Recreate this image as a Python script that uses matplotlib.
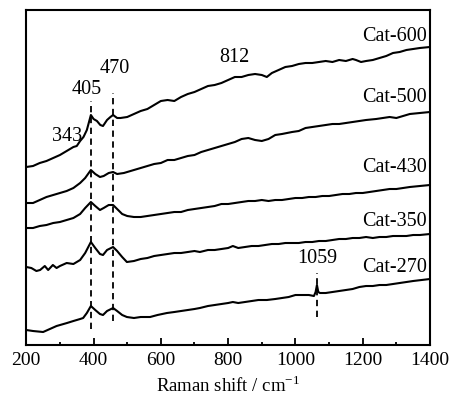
import numpy as np
import matplotlib
matplotlib.use('Agg')
import matplotlib.pyplot as plt
from matplotlib.ticker import MultipleLocator

plt.rcParams['font.family'] = ['Liberation Serif', 'DejaVu Serif']
plt.rcParams['mathtext.fontset'] = 'stix'

# Raman spectra, intensity in arbitrary units (curves already offset)
x_600 = [200, 220, 240, 260, 280, 300, 320, 340, 350, 360, 370, 380, 392, 400, 410, 420, 428, 440, 450, 458,
         470, 480, 500, 520, 540, 560, 580, 600, 620, 640, 660, 680, 700, 720, 740, 760, 780, 800, 820, 840,
         860, 880, 900, 915, 930, 950, 970, 990, 1010, 1030, 1050, 1070, 1090, 1110, 1130, 1150, 1170, 1180,
         1195, 1210, 1230, 1250, 1270, 1290, 1310, 1330, 1350, 1370, 1400]
y_600 = [178, 179, 182, 184, 187, 190, 194, 198, 199, 204, 208, 215, 230, 226, 224, 220, 219, 225, 228, 230,
         227, 227, 228, 231, 234, 236, 240, 244, 245, 244, 248, 251, 253, 256, 259, 260, 262, 265, 268, 268,
         270, 271, 270, 268, 272, 275, 278, 279, 281, 282, 282, 283, 284, 283, 285, 284, 286, 285,
         283, 284, 285, 287, 289, 292, 293, 295, 296, 297, 298]

x_500 = [200, 220, 240, 260, 280, 300, 320, 340, 360, 375, 392, 405, 419, 430, 445, 458, 470, 490, 510, 530,
         560, 580, 600, 620, 640, 660, 680, 700, 720, 740, 760, 780, 800, 820, 840, 860, 880, 900, 920, 940,
         960, 990, 1010, 1030, 1050, 1070, 1090, 1110, 1130, 1150, 1170, 1190, 1210, 1240, 1260, 1280, 1300,
         1320, 1340, 1370, 1400]
y_500 = [142, 142, 145, 148, 150, 152, 154, 157, 162, 167, 175, 171, 168, 169, 172, 173, 171, 172, 174, 176,
         179, 181, 182, 185, 185, 187, 189, 190, 193, 195, 197, 199, 201, 203, 206, 207, 205, 204, 206, 210,
         211, 213, 214, 217, 218, 219, 220, 221, 221, 222, 223, 224, 225, 226, 227, 228, 227,
         229, 231, 232, 233]

x_430 = [200, 220, 240, 260, 280, 300, 320, 340, 360, 375, 392, 405, 419, 430, 445, 458, 470, 485, 500, 520,
         540, 560, 580, 600, 620, 640, 660, 680, 700, 720, 740, 760, 780, 800, 820, 840, 860, 880, 900, 920,
         940, 960, 980, 1000, 1020, 1040, 1060, 1080, 1100, 1120, 1140, 1160, 1180, 1200, 1220, 1240, 1260,
         1280, 1300, 1320, 1340, 1370, 1400]
y_430 = [117, 117, 119, 120, 122, 123, 125, 127, 131, 137, 143, 139, 135, 137, 140, 140, 136, 131, 129, 128,
         128, 129, 130, 131, 132, 133, 133, 135, 136, 137, 138, 139, 141, 141, 142, 143, 144, 144, 145, 144,
         145, 145, 146, 147, 147, 148, 148, 149, 149, 150, 151, 151, 152, 152, 153, 154, 155,
         156, 156, 157, 158, 159, 160]

x_350 = [200, 215, 230, 241, 255, 265, 279, 290, 300, 320, 340, 360, 375, 392, 405, 419, 428, 440, 458, 470,
         485, 499, 520, 540, 560, 580, 600, 620, 640, 660, 680, 700, 716, 740, 760, 780, 800, 814, 830, 850,
         870, 890, 910, 930, 950, 970, 990, 1010, 1030, 1050, 1070, 1090, 1110, 1130, 1150, 1170, 1190,
         1210, 1230, 1250, 1270, 1290, 1310, 1330, 1350, 1370, 1400]
y_350 = [78, 77, 74, 75, 79, 75, 80, 77, 79, 82, 81, 85, 92, 103, 97, 91, 90, 95, 98, 94,
         88, 83, 84, 86, 87, 89, 90, 91, 92, 92, 93, 94, 93, 95, 95, 96, 97, 99, 97, 98,
         99, 99, 100, 101, 101, 102, 102, 102, 103, 103, 104, 104, 105, 106, 106, 107, 107,
         108, 107, 108, 108, 109, 109, 109, 110, 110, 111]

x_270 = [200, 220, 250, 270, 290, 321, 340, 360, 369, 380, 392, 405, 419, 428, 440, 458, 470, 485, 499, 520,
         540, 568, 590, 618, 640, 660, 680, 700, 716, 740, 760, 780, 800, 814, 830, 850, 870, 890, 915, 940,
         960, 980, 1000, 1020, 1040, 1055, 1060, 1064, 1068, 1073, 1090, 1110, 1130, 1150, 1170, 1190, 1210,
         1230, 1250, 1270, 1290, 1310, 1330, 1350, 1375, 1400]
y_270 = [15, 14, 13, 16, 19, 22, 24, 26, 27, 32, 39, 35, 31, 30, 34, 37, 34, 30, 28, 27,
         28, 28, 30, 32, 33, 34, 35, 36, 37, 39, 40, 41, 42, 43, 42, 43, 44, 45, 45, 46,
         47, 48, 50, 50, 50, 49, 53, 60, 53, 52, 52, 53, 54, 55, 56, 58, 59,
         59, 60, 60, 61, 62, 63, 64, 65, 66]

curve_names = ['Cat-600', 'Cat-500', 'Cat-430', 'Cat-350', 'Cat-270']
curve_label_y = [308, 247, 178, 124, 78]

# marker lines: position, bottom, top
mark_x = [392, 457, 1064]
mark_lo = [16, 24, 28]
mark_hi = [244, 252, 72]

# peak annotations: text, x, y
peak_text = ['343', '405', '470', '812', '1059']
peak_x = [321, 380, 464, 820, 1064]
peak_y = [208, 255, 276, 287, 87]

fig = plt.figure(figsize=(4.51, 4.03), dpi=100)
ax = fig.add_axes([0.0583, 0.1439, 0.8951, 0.8313])

for xs, ys in [(x_600, y_600), (x_500, y_500), (x_430, y_430), (x_350, y_350), (x_270, y_270)]:
    ax.plot(xs, ys, color='black', lw=1.5)

for xm, lo, hi in zip(mark_x, mark_lo, mark_hi):
    ax.plot([xm, xm], [lo, hi], color='black', lw=1.3, ls=(0, (3.5, 2.5)))

for t, xt, yt in zip(peak_text, peak_x, peak_y):
    ax.text(xt, yt, t, ha='center', va='center', fontsize=14.5)

for name, yl in zip(curve_names, curve_label_y):
    ax.text(1390, yl, name, ha='right', va='center', fontsize=14.5)

ax.set_xlim(200, 1400)
ax.set_ylim(0, 335)
ax.set_yticks([])
ax.xaxis.set_major_locator(MultipleLocator(200))
ax.xaxis.set_minor_locator(MultipleLocator(100))
ax.tick_params(axis='x', which='major', direction='in', length=5, width=1.3, labelsize=14, pad=5)
ax.tick_params(axis='x', which='minor', direction='in', length=2.5, width=1.3)
for sp in ax.spines.values():
    sp.set_linewidth(1.5)
ax.set_xlabel(r'Raman shift / cm$^{\mathregular{-1}}$', fontsize=13.5, labelpad=5)

fig.savefig('out.png', dpi=100)
